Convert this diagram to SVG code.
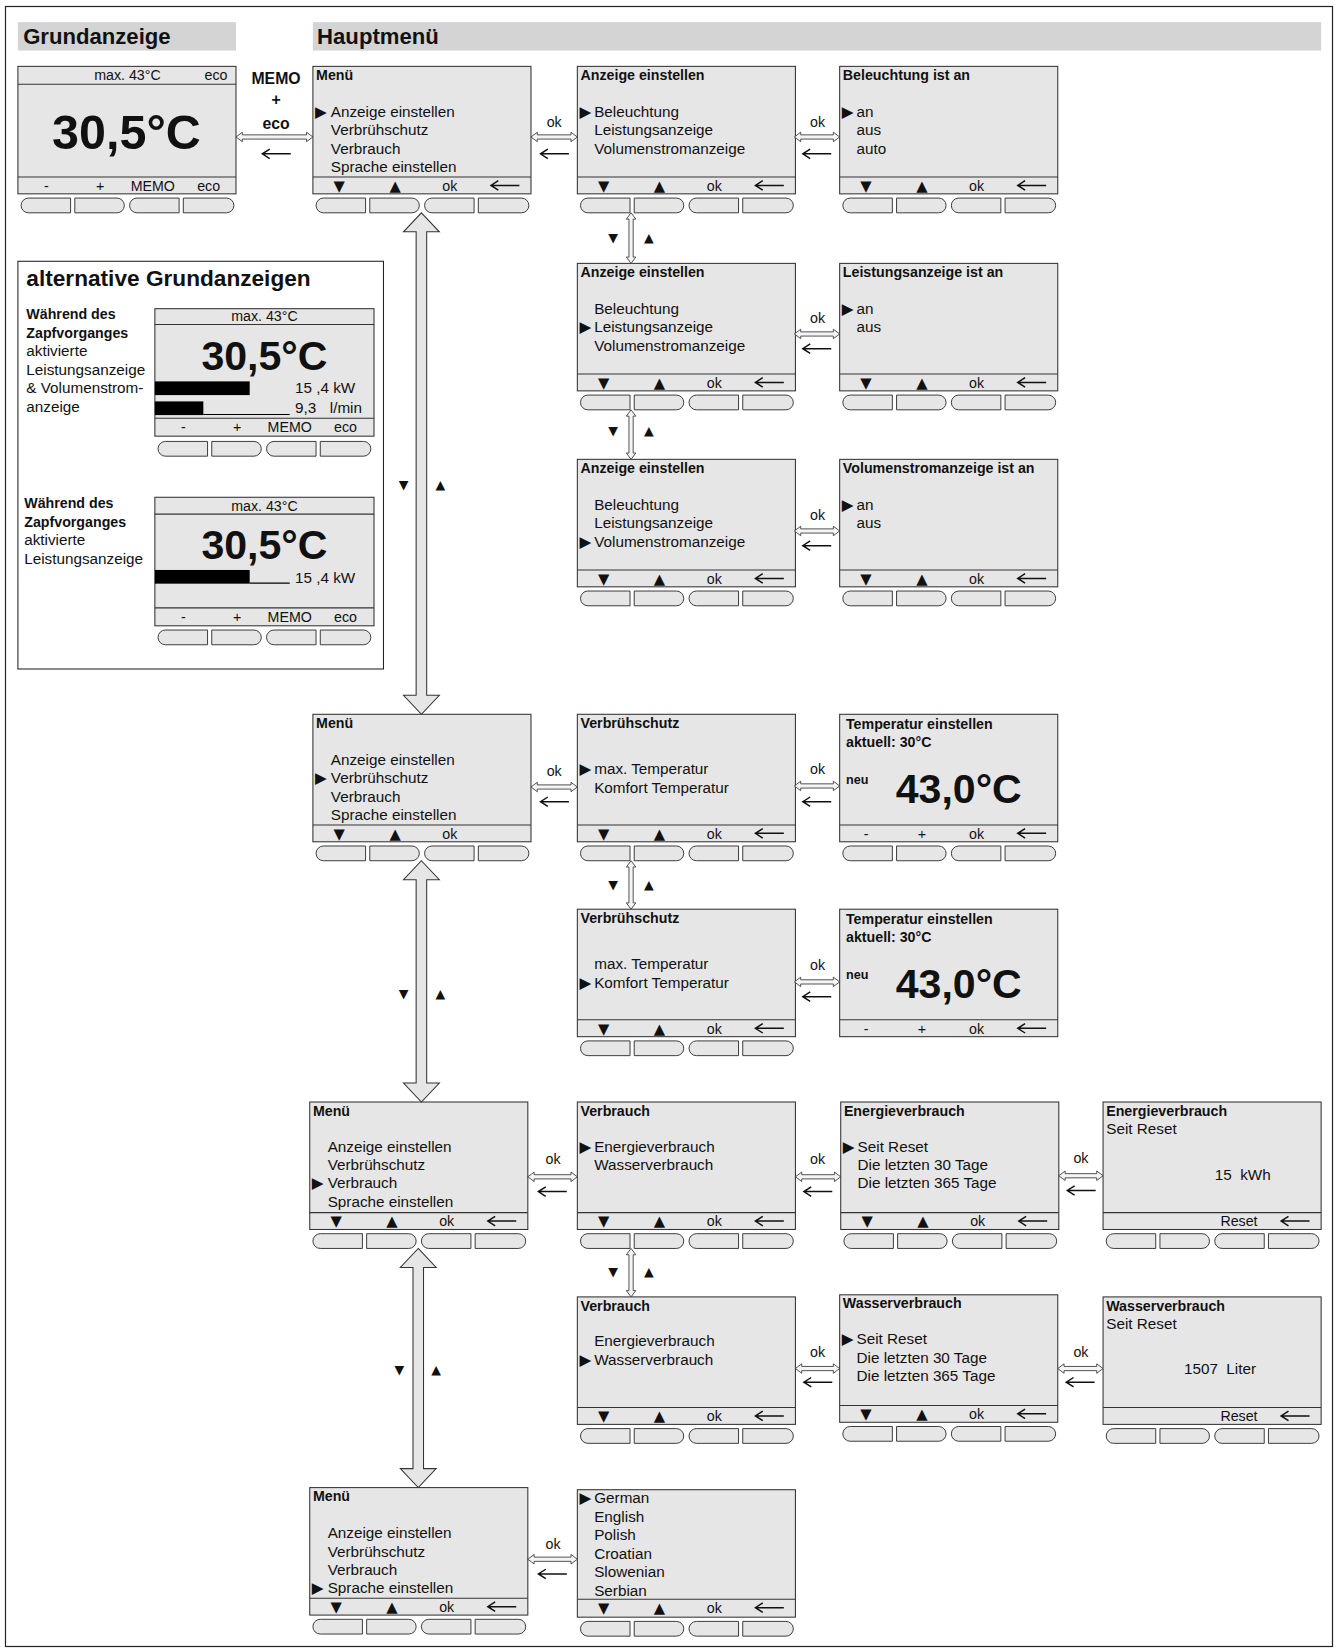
<svg xmlns="http://www.w3.org/2000/svg" xmlns:xlink="http://www.w3.org/1999/xlink" width="1338" height="1652" viewBox="0 0 1338 1652">
<style>
.scr{fill:#e6e6e6;stroke:#333;stroke-width:1}
.sep{stroke:#333;stroke-width:1}
.btn{fill:#e6e6e6;stroke:#333;stroke-width:0.9}
.band{fill:#d4d4d4}
text{font-family:"Liberation Sans",Arial,sans-serif;fill:#111}
.n{font-size:14.5px}
.h{font-size:13.5px;font-weight:bold}
.s{font-size:13.5px;text-anchor:middle}
.g{font-family:"DejaVu Sans",sans-serif;font-size:14px;text-anchor:middle}
.p{font-family:"DejaVu Sans",sans-serif;font-size:14.5px}
.sg{font-family:"DejaVu Sans",sans-serif;font-size:12px;text-anchor:middle}
.big{font-weight:bold;text-anchor:middle}
.hd{font-size:21px;font-weight:bold}
.darr{fill:#f4f4f4;stroke:#333;stroke-width:0.8}
.barr{fill:#e6e6e6;stroke:#333;stroke-width:1}
.bk{fill:none;stroke:#111;stroke-width:1.4}
</style>
<defs>
<g id="btns">
<path class="btn" d="M7,0 H47 V14 H7 A7,7 0 0 1 7,0 Z"/>
<path class="btn" d="M51,0 H91 A7,7 0 0 1 91,14 H51 Z"/>
<path class="btn" d="M110,0 H150 V14 H110 A7,7 0 0 1 110,0 Z"/>
<path class="btn" d="M154,0 H195 A7,7 0 0 1 195,14 H154 Z"/>
</g>
<g id="frame">
<rect class="scr" x="0" y="0" width="207" height="121"/>
<line class="sep" x1="0" y1="105" x2="207" y2="105"/>
</g>
<path id="bk" class="bk" d="M0,0 H27 M7,-4.5 L0,0 L7,4.5"/>
</defs>
<rect x="5.5" y="6.5" width="1327" height="1640" fill="#fff" stroke="#222" stroke-width="1.2"/>
<g transform="scale(1.05354)">

<g id="headers">
<rect class="band" x="17" y="21" width="207" height="27"/>
<text class="hd" x="22" y="42">Grundanzeige</text>
<rect class="band" x="297" y="21" width="957" height="27"/>
<text class="hd" x="301" y="42">Hauptmenü</text>
</g>

<g id="grundanzeige">
<rect class="scr" x="17" y="63" width="207" height="121"/>
<line class="sep" x1="17" y1="80" x2="224" y2="80"/>
<line class="sep" x1="17" y1="168" x2="224" y2="168"/>
<text class="s" x="121" y="76">max. 43°C</text>
<text class="s" x="205" y="76">eco</text>
<text class="big" x="120" y="141" font-size="46">30,5°C</text>
<text class="s" x="44" y="181">-</text>
<text class="s" x="95" y="181">+</text>
<text class="s" x="145" y="181">MEMO</text>
<text class="s" x="198" y="181">eco</text>
<use xlink:href="#btns" x="20" y="188"/>
</g>

<g id="alternative">
<rect x="17" y="248" width="347" height="387" fill="#fff" stroke="#222" stroke-width="1"/>
<text x="25" y="271" font-size="21.5" font-weight="bold">alternative Grundanzeigen</text>
<text class="h" x="25" y="303">Während des</text>
<text class="h" x="25" y="321">Zapfvorganges</text>
<text class="n" x="25" y="338">aktivierte</text>
<text class="n" x="25" y="356">Leistungsanzeige</text>
<text class="n" x="25" y="373">&amp; Volumenstrom-</text>
<text class="n" x="25" y="391">anzeige</text>
<rect class="scr" x="147" y="293" width="208" height="121"/>
<line class="sep" x1="147" y1="308" x2="355" y2="308"/>
<line class="sep" x1="147" y1="397" x2="355" y2="397"/>
<text class="s" x="251" y="305">max. 43°C</text>
<text class="big" x="251" y="351" font-size="39">30,5°C</text>
<rect x="147" y="362" width="90" height="13" fill="#000"/>
<text class="n" x="280" y="373">15 ,4 kW</text>
<rect x="147" y="381" width="46" height="13" fill="#000"/>
<line x1="193" y1="393.5" x2="275" y2="393.5" stroke="#000" stroke-width="1"/>
<text class="n" x="280" y="392">9,3</text>
<text class="n" x="313" y="392">l/min</text>
<text class="s" x="174" y="410">-</text>
<text class="s" x="225" y="410">+</text>
<text class="s" x="275" y="410">MEMO</text>
<text class="s" x="328" y="410">eco</text>
<use xlink:href="#btns" x="150" y="419"/>
<text class="h" x="23" y="482">Während des</text>
<text class="h" x="23" y="500">Zapfvorganges</text>
<text class="n" x="23" y="517">aktivierte</text>
<text class="n" x="23" y="535">Leistungsanzeige</text>
<rect class="scr" x="147" y="472" width="208" height="122"/>
<line class="sep" x1="147" y1="488" x2="355" y2="488"/>
<line class="sep" x1="147" y1="577" x2="355" y2="577"/>
<text class="s" x="251" y="485">max. 43°C</text>
<text class="big" x="251" y="531" font-size="39">30,5°C</text>
<rect x="147" y="541" width="90" height="13" fill="#000"/>
<line x1="237" y1="553.5" x2="275" y2="553.5" stroke="#000" stroke-width="1"/>
<text class="n" x="280" y="553">15 ,4 kW</text>
<text class="s" x="174" y="590">-</text>
<text class="s" x="225" y="590">+</text>
<text class="s" x="275" y="590">MEMO</text>
<text class="s" x="328" y="590">eco</text>
<use xlink:href="#btns" x="150" y="598"/>
</g>

<g id="menu-anzeige">
<use xlink:href="#frame" x="297" y="63"/>
<text class="h" x="300" y="76">Menü</text>
<text class="p" x="299" y="111">▶</text>
<text class="n" x="314" y="111">Anzeige einstellen</text>
<text class="n" x="314" y="128.5">Verbrühschutz</text>
<text class="n" x="314" y="146">Verbrauch</text>
<text class="n" x="314" y="163.5">Sprache einstellen</text>
<text class="g" x="322" y="181">▼</text>
<text class="g" x="375" y="181">▲</text>
<text class="s" x="427" y="181">ok</text>
<use xlink:href="#bk" x="466" y="176"/>
<use xlink:href="#btns" x="300" y="188"/>
</g>

<g id="anzeige-1">
<use xlink:href="#frame" x="548" y="63"/>
<text class="h" x="551" y="76">Anzeige einstellen</text>
<text class="p" x="550" y="111">▶</text>
<text class="n" x="564" y="111">Beleuchtung</text>
<text class="n" x="564" y="128.5">Leistungsanzeige</text>
<text class="n" x="564" y="146">Volumenstromanzeige</text>
<text class="g" x="573" y="181">▼</text>
<text class="g" x="626" y="181">▲</text>
<text class="s" x="678" y="181">ok</text>
<use xlink:href="#bk" x="717" y="176"/>
<use xlink:href="#btns" x="551" y="188"/>
</g>

<g id="beleuchtung">
<use xlink:href="#frame" x="797" y="63"/>
<text class="h" x="800" y="76">Beleuchtung ist an</text>
<text class="p" x="799" y="111">▶</text>
<text class="n" x="813" y="111">an</text>
<text class="n" x="813" y="128.5">aus</text>
<text class="n" x="813" y="146">auto</text>
<text class="g" x="822" y="181">▼</text>
<text class="g" x="875" y="181">▲</text>
<text class="s" x="927" y="181">ok</text>
<use xlink:href="#bk" x="966" y="176"/>
<use xlink:href="#btns" x="800" y="188"/>
</g>

<g id="anzeige-2">
<use xlink:href="#frame" x="548" y="250"/>
<text class="h" x="551" y="263">Anzeige einstellen</text>
<text class="n" x="564" y="298">Beleuchtung</text>
<text class="p" x="550" y="315.5">▶</text>
<text class="n" x="564" y="315.5">Leistungsanzeige</text>
<text class="n" x="564" y="333">Volumenstromanzeige</text>
<text class="g" x="573" y="368">▼</text>
<text class="g" x="626" y="368">▲</text>
<text class="s" x="678" y="368">ok</text>
<use xlink:href="#bk" x="717" y="363"/>
<use xlink:href="#btns" x="551" y="375"/>
</g>

<g id="leistung">
<use xlink:href="#frame" x="797" y="250"/>
<text class="h" x="800" y="263">Leistungsanzeige ist an</text>
<text class="p" x="799" y="298">▶</text>
<text class="n" x="813" y="298">an</text>
<text class="n" x="813" y="315.5">aus</text>
<text class="g" x="822" y="368">▼</text>
<text class="g" x="875" y="368">▲</text>
<text class="s" x="927" y="368">ok</text>
<use xlink:href="#bk" x="966" y="363"/>
<use xlink:href="#btns" x="800" y="375"/>
</g>

<g id="anzeige-3">
<use xlink:href="#frame" x="548" y="436"/>
<text class="h" x="551" y="449">Anzeige einstellen</text>
<text class="n" x="564" y="484">Beleuchtung</text>
<text class="n" x="564" y="501.5">Leistungsanzeige</text>
<text class="p" x="550" y="519">▶</text>
<text class="n" x="564" y="519">Volumenstromanzeige</text>
<text class="g" x="573" y="554">▼</text>
<text class="g" x="626" y="554">▲</text>
<text class="s" x="678" y="554">ok</text>
<use xlink:href="#bk" x="717" y="549"/>
<use xlink:href="#btns" x="551" y="561"/>
</g>

<g id="volumenstrom">
<use xlink:href="#frame" x="797" y="436"/>
<text class="h" x="800" y="449">Volumenstromanzeige ist an</text>
<text class="p" x="799" y="484">▶</text>
<text class="n" x="813" y="484">an</text>
<text class="n" x="813" y="501.5">aus</text>
<text class="g" x="822" y="554">▼</text>
<text class="g" x="875" y="554">▲</text>
<text class="s" x="927" y="554">ok</text>
<use xlink:href="#bk" x="966" y="549"/>
<use xlink:href="#btns" x="800" y="561"/>
</g>

<g id="menu-verbruehschutz">
<use xlink:href="#frame" x="297" y="678"/>
<text class="h" x="300" y="691">Menü</text>
<text class="n" x="314" y="726">Anzeige einstellen</text>
<text class="p" x="299" y="743.5">▶</text>
<text class="n" x="314" y="743.5">Verbrühschutz</text>
<text class="n" x="314" y="761">Verbrauch</text>
<text class="n" x="314" y="778.5">Sprache einstellen</text>
<text class="g" x="322" y="796">▼</text>
<text class="g" x="375" y="796">▲</text>
<text class="s" x="427" y="796">ok</text>
<use xlink:href="#btns" x="300" y="803"/>
</g>

<g id="verbruehschutz-1">
<use xlink:href="#frame" x="548" y="678"/>
<text class="h" x="551" y="691">Verbrühschutz</text>
<text class="p" x="550" y="735">▶</text>
<text class="n" x="564" y="735">max. Temperatur</text>
<text class="n" x="564" y="752.5">Komfort Temperatur</text>
<text class="g" x="573" y="796">▼</text>
<text class="g" x="626" y="796">▲</text>
<text class="s" x="678" y="796">ok</text>
<use xlink:href="#bk" x="717" y="791"/>
<use xlink:href="#btns" x="551" y="803"/>
</g>

<g id="temperatur-1">
<use xlink:href="#frame" x="797" y="678"/>
<text class="h" x="803" y="692">Temperatur einstellen</text>
<text class="h" x="803" y="709">aktuell: 30°C</text>
<text x="803" y="744" font-size="12" font-weight="bold">neu</text>
<text class="big" x="910" y="762" font-size="39">43,0°C</text>
<text class="s" x="822" y="796">-</text>
<text class="s" x="875" y="796">+</text>
<text class="s" x="927" y="796">ok</text>
<use xlink:href="#bk" x="966" y="791"/>
<use xlink:href="#btns" x="800" y="803"/>
</g>

<g id="verbruehschutz-2">
<use xlink:href="#frame" x="548" y="863"/>
<text class="h" x="551" y="876">Verbrühschutz</text>
<text class="n" x="564" y="920">max. Temperatur</text>
<text class="p" x="550" y="937.5">▶</text>
<text class="n" x="564" y="937.5">Komfort Temperatur</text>
<text class="g" x="573" y="981">▼</text>
<text class="g" x="626" y="981">▲</text>
<text class="s" x="678" y="981">ok</text>
<use xlink:href="#bk" x="717" y="976"/>
<use xlink:href="#btns" x="551" y="988"/>
</g>

<g id="temperatur-2">
<use xlink:href="#frame" x="797" y="863"/>
<text class="h" x="803" y="877">Temperatur einstellen</text>
<text class="h" x="803" y="894">aktuell: 30°C</text>
<text x="803" y="929" font-size="12" font-weight="bold">neu</text>
<text class="big" x="910" y="947" font-size="39">43,0°C</text>
<text class="s" x="822" y="981">-</text>
<text class="s" x="875" y="981">+</text>
<text class="s" x="927" y="981">ok</text>
<use xlink:href="#bk" x="966" y="976"/>
</g>

<g id="menu-verbrauch">
<use xlink:href="#frame" x="294" y="1046"/>
<text class="h" x="297" y="1059">Menü</text>
<text class="n" x="311" y="1093">Anzeige einstellen</text>
<text class="n" x="311" y="1110.5">Verbrühschutz</text>
<text class="p" x="296" y="1128">▶</text>
<text class="n" x="311" y="1128">Verbrauch</text>
<text class="n" x="311" y="1145.5">Sprache einstellen</text>
<text class="g" x="319" y="1164">▼</text>
<text class="g" x="372" y="1164">▲</text>
<text class="s" x="424" y="1164">ok</text>
<use xlink:href="#bk" x="463" y="1159"/>
<use xlink:href="#btns" x="297" y="1171"/>
</g>

<g id="verbrauch-1">
<use xlink:href="#frame" x="548" y="1046"/>
<text class="h" x="551" y="1059">Verbrauch</text>
<text class="p" x="550" y="1093">▶</text>
<text class="n" x="564" y="1093">Energieverbrauch</text>
<text class="n" x="564" y="1110.5">Wasserverbrauch</text>
<text class="g" x="573" y="1164">▼</text>
<text class="g" x="626" y="1164">▲</text>
<text class="s" x="678" y="1164">ok</text>
<use xlink:href="#bk" x="717" y="1159"/>
<use xlink:href="#btns" x="551" y="1171"/>
</g>

<g id="energie">
<use xlink:href="#frame" x="798" y="1046"/>
<text class="h" x="801" y="1059">Energieverbrauch</text>
<text class="p" x="800" y="1093">▶</text>
<text class="n" x="814" y="1093">Seit Reset</text>
<text class="n" x="814" y="1110.5">Die letzten 30 Tage</text>
<text class="n" x="814" y="1128">Die letzten 365 Tage</text>
<text class="g" x="823" y="1164">▼</text>
<text class="g" x="876" y="1164">▲</text>
<text class="s" x="928" y="1164">ok</text>
<use xlink:href="#bk" x="967" y="1159"/>
<use xlink:href="#btns" x="801" y="1171"/>
</g>

<g id="energie-reset">
<use xlink:href="#frame" x="1047" y="1046"/>
<text class="h" x="1050" y="1059">Energieverbrauch</text>
<text class="n" x="1050" y="1076">Seit Reset</text>
<text class="n" x="1153" y="1120">15&#160;&#160;kWh</text>
<text class="s" x="1176" y="1164">Reset</text>
<use xlink:href="#bk" x="1216" y="1159"/>
<use xlink:href="#btns" x="1050" y="1171"/>
</g>

<g id="verbrauch-2">
<use xlink:href="#frame" x="548" y="1231"/>
<text class="h" x="551" y="1244">Verbrauch</text>
<text class="n" x="564" y="1278">Energieverbrauch</text>
<text class="p" x="550" y="1295.5">▶</text>
<text class="n" x="564" y="1295.5">Wasserverbrauch</text>
<text class="g" x="573" y="1349">▼</text>
<text class="g" x="626" y="1349">▲</text>
<text class="s" x="678" y="1349">ok</text>
<use xlink:href="#bk" x="717" y="1344"/>
<use xlink:href="#btns" x="551" y="1356"/>
</g>

<g id="wasser">
<use xlink:href="#frame" x="797" y="1229"/>
<text class="h" x="800" y="1242">Wasserverbrauch</text>
<text class="p" x="799" y="1276">▶</text>
<text class="n" x="813" y="1276">Seit Reset</text>
<text class="n" x="813" y="1293.5">Die letzten 30 Tage</text>
<text class="n" x="813" y="1311">Die letzten 365 Tage</text>
<text class="g" x="822" y="1347">▼</text>
<text class="g" x="875" y="1347">▲</text>
<text class="s" x="927" y="1347">ok</text>
<use xlink:href="#bk" x="966" y="1342"/>
<use xlink:href="#btns" x="800" y="1354"/>
</g>

<g id="wasser-reset">
<use xlink:href="#frame" x="1047" y="1231"/>
<text class="h" x="1050" y="1244">Wasserverbrauch</text>
<text class="n" x="1050" y="1261">Seit Reset</text>
<text class="n" x="1158" y="1304" text-anchor="middle">1507&#160;&#160;Liter</text>
<text class="s" x="1176" y="1349">Reset</text>
<use xlink:href="#bk" x="1216" y="1344"/>
<use xlink:href="#btns" x="1050" y="1356"/>
</g>

<g id="menu-sprache">
<use xlink:href="#frame" x="294" y="1412"/>
<text class="h" x="297" y="1425">Menü</text>
<text class="n" x="311" y="1460">Anzeige einstellen</text>
<text class="n" x="311" y="1477.5">Verbrühschutz</text>
<text class="n" x="311" y="1495">Verbrauch</text>
<text class="p" x="296" y="1512.5">▶</text>
<text class="n" x="311" y="1512.5">Sprache einstellen</text>
<text class="g" x="319" y="1530">▼</text>
<text class="g" x="372" y="1530">▲</text>
<text class="s" x="424" y="1530">ok</text>
<use xlink:href="#bk" x="463" y="1525"/>
<use xlink:href="#btns" x="297" y="1537"/>
</g>

<g id="sprache">
<rect class="scr" x="548" y="1414" width="207" height="121"/>
<line class="sep" x1="548" y1="1518" x2="755" y2="1518"/>
<text class="p" x="550" y="1427">▶</text>
<text class="n" x="564" y="1427">German</text>
<text class="n" x="564" y="1444.5">English</text>
<text class="n" x="564" y="1462">Polish</text>
<text class="n" x="564" y="1479.5">Croatian</text>
<text class="n" x="564" y="1497">Slowenian</text>
<text class="n" x="564" y="1514.5">Serbian</text>
<text class="g" x="573" y="1531">▼</text>
<text class="g" x="626" y="1531">▲</text>
<text class="s" x="678" y="1531">ok</text>
<use xlink:href="#bk" x="717" y="1526"/>
<use xlink:href="#btns" x="551" y="1539"/>
</g>

<g id="connectors">
<text x="262" y="80" font-size="15" font-weight="bold" text-anchor="middle">MEMO</text>
<text x="262" y="100" font-size="15" font-weight="bold" text-anchor="middle">+</text>
<text x="262" y="122" font-size="15" font-weight="bold" text-anchor="middle">eco</text>
<path class="darr" d="M224,130 l6,-4.5 v2.5 h61 v-2.5 l6,4.5 l-6,4.5 v-2.5 h-61 v2.5 z"/>
<use xlink:href="#bk" x="249" y="146"/>

<text class="s" x="526" y="121">ok</text>
<path class="darr" d="M504,130 l6,-4.5 v2.5 h32 v-2.5 l6,4.5 l-6,4.5 v-2.5 h-32 v2.5 z"/>
<use xlink:href="#bk" x="513" y="146"/>
<text class="s" x="776" y="121">ok</text>
<path class="darr" d="M754,130 l6,-4.5 v2.5 h31 v-2.5 l6,4.5 l-6,4.5 v-2.5 h-31 v2.5 z"/>
<use xlink:href="#bk" x="762" y="146"/>

<text class="s" x="776" y="307">ok</text>
<path class="darr" d="M754,317 l6,-4.5 v2.5 h31 v-2.5 l6,4.5 l-6,4.5 v-2.5 h-31 v2.5 z"/>
<use xlink:href="#bk" x="762" y="331"/>

<text class="s" x="776" y="494">ok</text>
<path class="darr" d="M754,504 l6,-4.5 v2.5 h31 v-2.5 l6,4.5 l-6,4.5 v-2.5 h-31 v2.5 z"/>
<use xlink:href="#bk" x="762" y="518"/>

<text class="s" x="526" y="737">ok</text>
<path class="darr" d="M504,747 l6,-4.5 v2.5 h32 v-2.5 l6,4.5 l-6,4.5 v-2.5 h-32 v2.5 z"/>
<use xlink:href="#bk" x="513" y="761"/>
<text class="s" x="776" y="735">ok</text>
<path class="darr" d="M754,746 l6,-4.5 v2.5 h31 v-2.5 l6,4.5 l-6,4.5 v-2.5 h-31 v2.5 z"/>
<use xlink:href="#bk" x="762" y="761"/>

<text class="s" x="776" y="921">ok</text>
<path class="darr" d="M754,932 l6,-4.5 v2.5 h31 v-2.5 l6,4.5 l-6,4.5 v-2.5 h-31 v2.5 z"/>
<use xlink:href="#bk" x="762" y="946"/>

<text class="s" x="525" y="1105">ok</text>
<path class="darr" d="M501,1117 l6,-4.5 v2.5 h35 v-2.5 l6,4.5 l-6,4.5 v-2.5 h-35 v2.5 z"/>
<use xlink:href="#bk" x="511" y="1131"/>
<text class="s" x="776" y="1105">ok</text>
<path class="darr" d="M755,1117 l6,-4.5 v2.5 h31 v-2.5 l6,4.5 l-6,4.5 v-2.5 h-31 v2.5 z"/>
<use xlink:href="#bk" x="763" y="1131"/>
<text class="s" x="1026" y="1104">ok</text>
<path class="darr" d="M1005,1116 l6,-4.5 v2.5 h30 v-2.5 l6,4.5 l-6,4.5 v-2.5 h-30 v2.5 z"/>
<use xlink:href="#bk" x="1013" y="1130"/>

<text class="s" x="776" y="1288">ok</text>
<path class="darr" d="M755,1299 l6,-4.5 v2.5 h30 v-2.5 l6,4.5 l-6,4.5 v-2.5 h-30 v2.5 z"/>
<use xlink:href="#bk" x="763" y="1312"/>
<text class="s" x="1026" y="1288">ok</text>
<path class="darr" d="M1004,1299 l6,-4.5 v2.5 h31 v-2.5 l6,4.5 l-6,4.5 v-2.5 h-31 v2.5 z"/>
<use xlink:href="#bk" x="1012" y="1312"/>

<text class="s" x="525" y="1470">ok</text>
<path class="darr" d="M501,1480 l6,-4.5 v2.5 h35 v-2.5 l6,4.5 l-6,4.5 v-2.5 h-35 v2.5 z"/>
<use xlink:href="#bk" x="511" y="1494"/>

<path class="darr" d="M599,202 l4.5,6 h-2.5 v36 h2.5 l-4.5,6 l-4.5,-6 h2.5 v-36 h-2.5 z"/>
<text class="sg" x="582" y="230">▼</text>
<text class="sg" x="616" y="230">▲</text>
<path class="darr" d="M599,389 l4.5,6 h-2.5 v35 h2.5 l-4.5,6 l-4.5,-6 h2.5 v-35 h-2.5 z"/>
<text class="sg" x="582" y="413">▼</text>
<text class="sg" x="616" y="413">▲</text>
<path class="darr" d="M599,817 l4.5,6 h-2.5 v34 h2.5 l-4.5,6 l-4.5,-6 h2.5 v-34 h-2.5 z"/>
<text class="sg" x="582" y="844">▼</text>
<text class="sg" x="616" y="844">▲</text>
<path class="darr" d="M599,1185 l4.5,6 h-2.5 v34 h2.5 l-4.5,6 l-4.5,-6 h2.5 v-34 h-2.5 z"/>
<text class="sg" x="582" y="1211">▼</text>
<text class="sg" x="616" y="1211">▲</text>

<path class="barr" d="M400,202 l17,18 h-12 v440 h12 l-17,18 l-17,-18 h12 v-440 h-12 z"/>
<text class="sg" x="383" y="464">▼</text>
<text class="sg" x="418" y="464">▲</text>
<path class="barr" d="M400,817 l17,18 h-12 v193 h12 l-17,18 l-17,-18 h12 v-193 h-12 z"/>
<text class="sg" x="383" y="947">▼</text>
<text class="sg" x="418" y="947">▲</text>
<path class="barr" d="M397,1185 l17,18 h-12 v191 h12 l-17,18 l-17,-18 h12 v-191 h-12 z"/>
<text class="sg" x="379" y="1304">▼</text>
<text class="sg" x="414" y="1304">▲</text>
</g>
</g>
</svg>
